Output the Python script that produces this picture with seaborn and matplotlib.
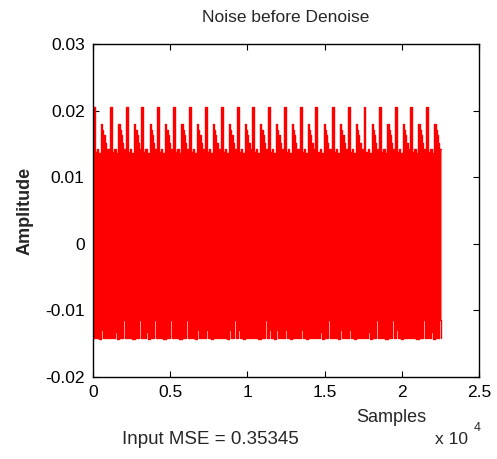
import numpy as np
import pandas as pd
import matplotlib
matplotlib.use("Agg")
import matplotlib.pyplot as plt
import seaborn as sns

# spike start positions (samples)
spike_starts = [0, 1130, 2150, 3140, 4160, 5200, 6220, 7245, 8300, 9310, 10310,
                11330, 12350, 13390, 14410, 15480, 16500, 17520, 18540, 19540,
                20550, 21590]
signal_end = 22540

# shape of one period of the envelope (offset in samples, amplitude)
upper_offsets = [0, 120, 260, 340, 520, 600, 670, 750, 830]
upper_values = [0.0206, 0.0138, 0.0143, 0.0137, 0.0180, 0.0171, 0.0163, 0.0152, 0.0142]
lower_offsets = [0, 100, 190, 320, 400, 540, 620, 840, 930]
lower_values = [-0.0141, -0.0130, -0.0142, -0.0132, -0.0143, -0.0129, -0.0141, -0.0114, -0.0142]

xtick_vals = [0, 5000, 10000, 15000, 20000, 25000]
xtick_labels = ["0", "0.5", "1", "1.5", "2", "2.5"]
ytick_vals = [-0.02, -0.01, 0, 0.01, 0.02, 0.03]
ytick_labels = ["-0.02", "-0.01", "0", "0.01", "0.02", "0.03"]

title = "Noise before Denoise"
mse_text = "Input MSE = 0.35345"


def envelope(offsets, values):
    xs, ys = [], []
    for i, s in enumerate(spike_starts):
        nxt = spike_starts[i + 1] if i + 1 < len(spike_starts) else signal_end
        for o, v in zip(offsets, values):
            if s + o < nxt:
                xs.append(s + o)
                ys.append(v)
    xs.append(signal_end)
    ys.append(ys[-1])
    return np.array(xs), np.array(ys)


ux, uy = envelope(upper_offsets, upper_values)
lx, ly = envelope(lower_offsets, lower_values)
grid = np.union1d(ux, lx)
up = uy[np.searchsorted(ux, grid, side="right") - 1]
lo = ly[np.searchsorted(lx, grid, side="right") - 1]
df = pd.DataFrame({"sample": grid, "upper": up, "lower": lo})

sns.set_style("ticks")
plt.rcParams["font.family"] = ["Liberation Sans", "DejaVu Sans"]

fig = plt.figure(figsize=(4.97, 4.59), dpi=100)
ax = fig.add_axes([93 / 497, 1 - 377 / 459, 386 / 497, 333 / 459])

ax.fill_between(df["sample"], df["lower"], df["upper"], step="post",
                color="#ff0000", linewidth=0)
sns.lineplot(data=df, x="sample", y="upper", ax=ax, color="#ff0000",
             estimator=None, sort=False, drawstyle="steps-post", linewidth=1.0)
sns.lineplot(data=df, x="sample", y="lower", ax=ax, color="#ff0000",
             estimator=None, sort=False, drawstyle="steps-post", linewidth=1.0)

ax.set_xlim(0, 25000)
ax.set_ylim(-0.02, 0.03)
ax.set_xticks(xtick_vals)
ax.set_xticklabels(xtick_labels, fontsize=12.5)
ax.set_yticks(ytick_vals)
ax.set_yticklabels(ytick_labels, fontsize=12.5)
ax.tick_params(direction="in", length=4, width=0.8, top=True, right=True,
               colors="black", pad=6)
for sp in ax.spines.values():
    sp.set_visible(True)
    sp.set_linewidth(1.0)
    sp.set_color("black")

ax.set_xlabel("")
ax.set_ylabel("")
fig.text(286 / 497, 1 - 17 / 459, title, ha="center", va="center", fontsize=12.5)
fig.text(25 / 497, 1 - 211 / 459, "Amplitude", rotation=90, ha="center",
         va="center", fontsize=13, fontweight="bold")
fig.text(391 / 497, 1 - 418 / 459, "Samples", ha="center", va="center", fontsize=13)
fig.text(435 / 497, 1 - 439 / 459, "x 10", ha="left", va="center", fontsize=12.5)
fig.text(474 / 497, 1 - 428 / 459, "4", ha="left", va="center", fontsize=9)
fig.text(210 / 497, 1 - 440 / 459, mse_text, ha="center", va="center", fontsize=13.5)

fig.savefig("out.png", dpi=100)
